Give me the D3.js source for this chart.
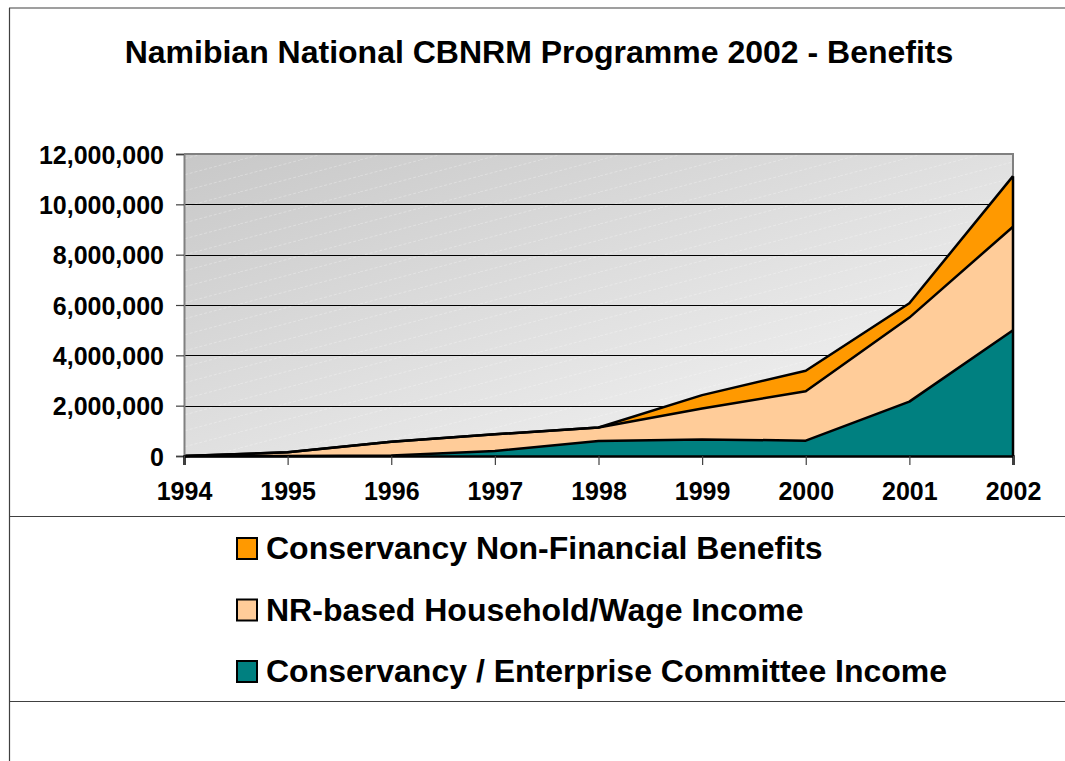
<!DOCTYPE html>
<html><head><meta charset="utf-8">
<script src="https://cdn.jsdelivr.net/npm/d3@7"></script>
<style>html,body{margin:0;padding:0;background:#fff;}svg{display:block;}</style>
</head><body>
<svg id="c" width="1065" height="761"></svg>
<script>
const years = [1994, 1995, 1996, 1997, 1998, 1999, 2000, 2001, 2002];
const committeeIncome = [0, 0, 20000, 200000, 600000, 660000, 610000, 2160000, 5000000];
const householdIncome = [0, 150000, 550000, 660000, 530000, 1230000, 1960000, 3340000, 4110000];
const nonFinancial = [0, 0, 0, 0, 0, 530000, 820000, 570000, 2010000];
const yTicks = [0, 2000000, 4000000, 6000000, 8000000, 10000000, 12000000];
const seriesNames = ["Conservancy / Enterprise Committee Income", "NR-based Household/Wage Income", "Conservancy Non-Financial Benefits"];
const seriesColors = ["#008080", "#FFCC99", "#FF9900"];
const title = "Namibian National CBNRM Programme 2002 - Benefits";

const svg = d3.select("#c");
const font = "'Liberation Sans', Arial, sans-serif";
const L = 184, R = 1013, T = 154, B = 456;

// frame lines
svg.append("line").attr("x1", 9.5).attr("x2", 9.5).attr("y1", 8).attr("y2", 761).attr("stroke", "#404040").attr("stroke-width", 1.2);
svg.append("line").attr("x1", 9).attr("x2", 1065).attr("y1", 8).attr("y2", 8).attr("stroke", "#404040").attr("stroke-width", 1.2);
svg.append("line").attr("x1", 9).attr("x2", 1065).attr("y1", 516.5).attr("y2", 516.5).attr("stroke", "#404040").attr("stroke-width", 1.2);
svg.append("line").attr("x1", 9).attr("x2", 1065).attr("y1", 701.5).attr("y2", 701.5).attr("stroke", "#404040").attr("stroke-width", 1.2);

svg.append("text").attr("x", 539).attr("y", 63).attr("text-anchor", "middle")
  .attr("font-family", font).attr("font-weight", "bold").attr("font-size", 32).attr("fill", "#000").text(title);

const x = d3.scaleLinear().domain([years[0], years[years.length - 1]]).range([L, R]);
const y = d3.scaleLinear().domain([0, 12000000]).range([B, T]);

const defs = svg.append("defs");
const grad = defs.append("linearGradient").attr("id", "bg").attr("x1", "0%").attr("y1", "0%").attr("x2", "100%").attr("y2", "100%");
grad.append("stop").attr("offset", "0%").attr("stop-color", "#c8c8c8");
grad.append("stop").attr("offset", "100%").attr("stop-color", "#f8f8f8");
const pat = defs.append("pattern").attr("id", "diag").attr("patternUnits", "userSpaceOnUse").attr("width", 60).attr("height", 16);
pat.append("line").attr("x1", 0).attr("y1", 16).attr("x2", 60).attr("y2", 0).attr("stroke", "#ffffff").attr("stroke-opacity", 0.35).attr("stroke-width", 0.8).attr("stroke-dasharray", "3,2");

svg.append("rect").attr("x", L).attr("y", T).attr("width", R - L).attr("height", B - T).attr("fill", "url(#bg)");
svg.append("rect").attr("x", L).attr("y", T).attr("width", R - L).attr("height", B - T).attr("fill", "url(#diag)");
// plot border (gray)
svg.append("path").attr("d", `M${L},${T}H${R}V${B}`).attr("fill", "none").attr("stroke", "#808080").attr("stroke-width", 2);

// gridlines
svg.append("g").selectAll("line").data(yTicks.filter(d => d > 0 && d < 12000000)).join("line")
  .attr("x1", L).attr("x2", R).attr("y1", d => Math.round(y(d)) + 0.5).attr("y2", d => Math.round(y(d)) + 0.5)
  .attr("stroke", "#000").attr("stroke-width", 1);

// stacked areas
const table = years.map((yr, i) => ({ year: yr, c: committeeIncome[i], h: householdIncome[i], n: nonFinancial[i] }));
const stack = d3.stack().keys(["c", "h", "n"]);
const layers = stack(table);
const area = d3.area().x(d => x(d.data.year)).y0(d => y(d[0])).y1(d => y(d[1]));
const line = d3.line().x(d => x(d.data.year)).y(d => y(d[1]));
svg.append("g").selectAll("path").data(layers).join("path")
  .attr("d", area).attr("fill", (d, i) => seriesColors[i]).attr("stroke", "none");
svg.append("g").selectAll("path").data(layers).join("path")
  .attr("d", line).attr("fill", "none").attr("stroke", "#000").attr("stroke-width", 2.5).attr("stroke-linejoin", "round");
// right edge line of areas
svg.append("line").attr("x1", R).attr("x2", R).attr("y1", B).attr("y2", y(layers[2][8][1]))
  .attr("stroke", "#000").attr("stroke-width", 2.5);

// axes
const yAxis = d3.axisLeft(y).tickValues(yTicks).tickSize(8).tickPadding(12).tickFormat(d3.format(","));
const gy = svg.append("g").attr("transform", `translate(${L},0)`).call(yAxis);
gy.select(".domain").attr("stroke", "#808080").attr("stroke-width", 2);
gy.selectAll(".tick line").attr("stroke", "#404040").attr("stroke-width", 1.2);
gy.selectAll("text").attr("font-family", font).attr("font-weight", "bold").attr("font-size", 25).attr("fill", "#000").attr("dy", "0.36em");

const xAxis = d3.axisBottom(x).tickValues(years).tickSize(9).tickPadding(17).tickFormat(d3.format("d"));
const gx = svg.append("g").attr("transform", `translate(0,${B})`).call(xAxis);
gx.select(".domain").attr("stroke", "#000").attr("stroke-width", 2.5);
gx.selectAll(".tick line").attr("stroke", "#404040").attr("stroke-width", 1.2);
gx.selectAll("text").attr("font-family", font).attr("font-weight", "bold").attr("font-size", 25).attr("fill", "#000");

// legend
const legendOrder = [2, 1, 0];
const lg = svg.append("g").selectAll("g").data(legendOrder).join("g")
  .attr("transform", (d, i) => `translate(237,${538 + i * 61.5})`);
lg.append("rect").attr("width", 20).attr("height", 21).attr("fill", d => seriesColors[d]).attr("stroke", "#000").attr("stroke-width", 2);
lg.append("text").attr("x", 29).attr("y", 21).attr("font-family", font).attr("font-weight", "bold").attr("font-size", 32).attr("fill", "#000").text(d => seriesNames[d]);
</script>
</body></html>
